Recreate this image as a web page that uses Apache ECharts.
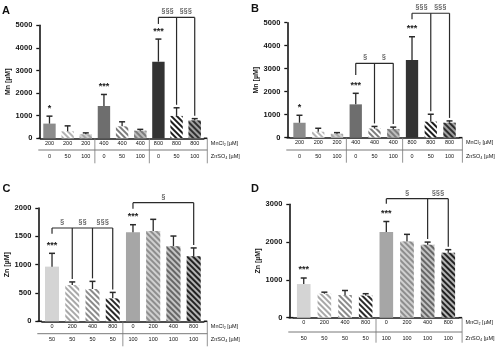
<!DOCTYPE html>
<html><head><meta charset="utf-8">
<script src="https://cdn.jsdelivr.net/npm/echarts@6/dist/echarts.min.js"></script>
<style>html,body{margin:0;padding:0;background:#fff}#c{width:500px;height:347px}</style>
</head><body><div id="c"></div>
<script>
// ---------- DATA ----------
// Panel A
const mnA = ['200','200','200','400','400','400','800','800','800'];
const znA = ['0','50','100','0','50','100','0','50','100'];
const meanA = [650, 310, 175, 1430, 530, 335, 3390, 990, 790];
const errA  = [980, 550, 240, 1940, 730, 395, 4390, 1350, 870];
const starsA = ['*','','','***','','','***','',''];
// bracket: [origin, targets, topValue, originDropEnd, labels]
const bracketsA = [[6, [7, 8], 5350, 5060, ['§§§', '§§§']]];

// Panel B
const mnB = ['200','200','200','400','400','400','800','800','800'];
const znB = ['0','50','100','0','50','100','0','50','100'];
const meanB = [650, 260, 170, 1450, 400, 380, 3380, 700, 650];
const errB  = [975, 410, 220, 1930, 490, 460, 4390, 1020, 730];
const starsB = ['*','','','***','','','***','',''];
const bracketsB = [[3, [4, 5], 3235, 2726, ['§', '§']], [6, [7, 8], 5410, 5148, ['§§§', '§§§']]];

// Panel C
const mnC = ['0','200','400','800','0','200','400','800'];
const znC = ['50','50','50','50','100','100','100','100'];
const meanC = [965, 640, 570, 405, 1570, 1595, 1325, 1150];
const errC  = [1200, 695, 705, 510, 1705, 1800, 1505, 1295];
const starsC = ['***','','','','***','','',''];
const bracketsC = [[0, [1, 2, 3], 1647, 1546, ['§', '§§', '§§§']], [4, [7], 2094, 1988, ['§']]];

// Panel D
const mnD = ['0','200','400','800','0','200','400','800'];
const znD = ['50','50','50','50','100','100','100','100'];
const meanD = [890, 635, 600, 585, 2265, 2015, 1930, 1720];
const errD  = [1050, 675, 720, 635, 2545, 2205, 2000, 1800];
const starsD = ['***','','','','***','','',''];
const bracketsD = [[4, [6, 7], 3148, 3016, ['§', '§§§']]];

const yNames = ['Mn [µM]', 'Mn [µM]', 'Zn [µM]', 'Zn [µM]'];
const yMaxes = [5000, 5000, 2000, 3000];
const yIntervals = [1000, 1000, 500, 1000];
const letters = ['A', 'B', 'C', 'D'];
const rowNameMn = 'MnCl₂ [µM]';
const rowNameZn = 'ZnSO₄ [µM]';

// ---------- STYLES ----------
const fillA   = ['#8c8c8c', '#ffffff', '#d2d2d2', '#6e6e6e', '#ffffff', '#bdbdbd', '#333333', '#ffffff', '#a0a0a0'];
const stripeA = [null, '#b4b4b4', '#a8a8a8', null, '#7c7c7c', '#7c7c7c', null, '#1e1e1e', '#2e2e2e'];
const fillB = fillA, stripeB = stripeA;
const fillC   = ['#d4d4d4', '#ffffff', '#ffffff', '#ffffff', '#a6a6a6', '#d0d0d0', '#c4c4c4', '#b4b4b4'];
const stripeC = [null, '#a8a8a8', '#8a8a8a', '#2a2a2a', null, '#8e8e8e', '#666666', '#222222'];
const fillD = fillC, stripeD = stripeC;

const layout = [
  {left: 40.4, top: 25.3, width: 163.4, height: 113, yOff: 1.1, rowOff: 11.7, barW: 12.4, lx: 2, ly: 5},
  {left: 290.1, top: 22.7, width: 168.8, height: 115, yOff: 2.8, rowOff: 12.3, barW: 12.3, lx: 251, ly: 3},
  {left: 41.9, top: 208, width: 161.9, height: 113.3, yOff: 3.6, rowOff: 12.4, barW: 14, lx: 2.5, ly: 183.5},
  {left: 293.4, top: 204.3, width: 165.2, height: 113.4, yOff: 4.1, rowOff: 14.3, barW: 13.6, lx: 251, ly: 183.5}
];

const panels = [
  {mn: mnA, zn: znA, mean: meanA, err: errA, stars: starsA, br: bracketsA, fill: fillA, stripe: stripeA},
  {mn: mnB, zn: znB, mean: meanB, err: errB, stars: starsB, br: bracketsB, fill: fillB, stripe: stripeB},
  {mn: mnC, zn: znC, mean: meanC, err: errC, stars: starsC, br: bracketsC, fill: fillC, stripe: stripeC},
  {mn: mnD, zn: znD, mean: meanD, err: errD, stars: starsD, br: bracketsD, fill: fillD, stripe: stripeD}
];

const FONT = '"Liberation Sans", Arial, Helvetica, sans-serif';
const AX = '#151515';
const LINE = '#2a2a2a';

const grid = [], xAxis = [], yAxis = [], series = [], title = [];

panels.forEach((p, g) => {
  const L = layout[g];
  grid.push({left: L.left, top: L.top, width: L.width, height: L.height, containLabel: false, outerBoundsMode: 'none'});
  title.push({text: letters[g], left: L.lx, top: L.ly, padding: 0,
    textStyle: {fontFamily: FONT, fontSize: 11, fontWeight: 'bold', color: '#111'}});
  xAxis.push({
    gridIndex: g, type: 'category', data: p.mn, position: 'bottom',
    axisLine: {show: true, lineStyle: {color: AX, width: 1.6}},
    axisTick: {show: false},
    axisLabel: {interval: 0, fontFamily: FONT, fontSize: 5.5, color: '#111', margin: 2},
    name: rowNameMn, nameLocation: 'end', nameGap: 7,
    nameTextStyle: {fontFamily: FONT, fontSize: 5.5, color: '#111', verticalAlign: 'top', padding: [2, 0, 0, 0]}
  });
  xAxis.push({
    gridIndex: g, type: 'category', data: p.zn, position: 'bottom', offset: L.rowOff,
    axisLine: {show: false}, axisTick: {show: false},
    axisLabel: {interval: 0, fontFamily: FONT, fontSize: 5.5, color: '#111', margin: 3},
    name: rowNameZn, nameLocation: 'end', nameGap: 7,
    nameTextStyle: {fontFamily: FONT, fontSize: 5.5, color: '#111', verticalAlign: 'top', padding: [3, 0, 0, 0]}
  });
  yAxis.push({
    gridIndex: g, type: 'value', min: 0, max: yMaxes[g], interval: yIntervals[g], offset: L.yOff,
    axisLine: {show: true, lineStyle: {color: AX, width: 1.6}},
    axisTick: {show: true, length: 3, lineStyle: {color: AX, width: 1.3}},
    splitLine: {show: false},
    axisLabel: {fontFamily: FONT, fontSize: 7.5, fontWeight: 'bold', color: '#111', margin: 7,
      formatter: v => String(v)},
    name: yNames[g], nameLocation: 'middle', nameGap: 28,
    nameTextStyle: {fontFamily: FONT, fontSize: 7, fontWeight: 'bold', color: '#111'}
  });

  // bars
  series.push({
    type: 'bar', xAxisIndex: 2 * g, yAxisIndex: g, barWidth: L.barW, silent: true,
    data: p.mean.map((v, i) => ({
      value: v,
      itemStyle: {
        color: p.fill[i],
        decal: p.stripe[i] ? {symbol: 'rect', symbolSize: 1, color: p.stripe[i],
          dashArrayX: [1, 0], dashArrayY: [2, 2], rotation: Math.PI / 4} : null
      }
    }))
  });

  // error bars + stars
  series.push({
    type: 'custom', xAxisIndex: 2 * g, yAxisIndex: g, clip: false, z: 4, silent: true,
    data: p.mean.map((m, i) => [i, m, p.err[i]]),
    renderItem: (params, api) => {
      const i = api.value(0);
      const a = api.coord([i, api.value(1)]);
      const b = api.coord([i, api.value(2)]);
      const children = [
        {type: 'line', shape: {x1: a[0], y1: a[1], x2: b[0], y2: b[1]}, style: {stroke: LINE, lineWidth: 1.3}},
        {type: 'line', shape: {x1: b[0] - 3, y1: b[1], x2: b[0] + 3, y2: b[1]}, style: {stroke: LINE, lineWidth: 1.5}}
      ];
      const s = p.stars[params.dataIndex];
      if (s) {
        children.push({type: 'text', style: {text: s, x: b[0], y: b[1] - 8, align: 'center', verticalAlign: 'middle',
          font: 'bold 9px ' + FONT, fill: '#222'}});
      }
      return {type: 'group', children};
    }
  });

  // significance brackets
  series.push({
    type: 'custom', xAxisIndex: 2 * g, yAxisIndex: g, clip: false, z: 4, silent: true,
    data: p.br.map(b => [b[0], b[2]]),
    renderItem: (params, api) => {
      const b = p.br[params.dataIndex];
      const o = b[0], targets = b[1], topV = b[2], oEnd = b[3], labels = b[4];
      const po = api.coord([o, topV]);
      const yTop = po[1];
      const xs = [po[0]].concat(targets.map(t => api.coord([t, 0])[0]));
      const xEnd = xs[xs.length - 1];
      const st = {stroke: LINE, lineWidth: 1.2};
      const children = [
        {type: 'line', shape: {x1: po[0], y1: yTop, x2: xEnd, y2: yTop}, style: st},
        {type: 'line', shape: {x1: po[0], y1: yTop, x2: po[0], y2: api.coord([o, oEnd])[1]}, style: st}
      ];
      targets.forEach((t, k) => {
        const yE = api.coord([t, p.err[t]])[1] - 3;
        children.push({type: 'line', shape: {x1: xs[k + 1], y1: yTop, x2: xs[k + 1], y2: yE}, style: st});
      });
      labels.forEach((lab, k) => {
        children.push({type: 'text', style: {text: lab, x: (xs[k] + xs[k + 1]) / 2, y: yTop - 6,
          align: 'center', verticalAlign: 'middle', font: '7.5px ' + FONT, fill: '#333'}});
      });
      return {type: 'group', children};
    }
  });

  // table decorations: separators, row line, baseline extension
  series.push({
    type: 'custom', xAxisIndex: 2 * g, yAxisIndex: g, clip: false, z: 3, silent: true,
    data: [[0, 0]],
    renderItem: (params, api) => {
      const cs = params.coordSys;
      const y0 = cs.y + cs.height;
      const xAxisPix = cs.x - L.yOff;
      const xRight = cs.x + cs.width + 3.5;
      const children = [
        {type: 'line', shape: {x1: xAxisPix - 0.8, y1: y0, x2: cs.x, y2: y0}, style: {stroke: AX, lineWidth: 1.6}},
        {type: 'line', shape: {x1: cs.x + cs.width, y1: y0, x2: xRight, y2: y0}, style: {stroke: AX, lineWidth: 1.6}},
        {type: 'line', shape: {x1: xAxisPix - 1, y1: y0 + L.rowOff, x2: xRight, y2: y0 + L.rowOff}, style: {stroke: '#555', lineWidth: 0.8}},
        {type: 'line', shape: {x1: xRight, y1: y0, x2: xRight, y2: y0 + 25}, style: {stroke: '#777', lineWidth: 0.8}}
      ];
      const groupKey = p.mn.map((m, i) => (g < 2 ? m : p.zn[i]));
      for (let k = 1; k < groupKey.length; k++) {
        if (groupKey[k] !== groupKey[k - 1]) {
          const xb = (api.coord([k - 1, 0])[0] + api.coord([k, 0])[0]) / 2;
          children.push({type: 'line', shape: {x1: xb, y1: y0, x2: xb, y2: y0 + 25}, style: {stroke: '#777', lineWidth: 0.8}});
        }
      }
      return {type: 'group', children};
    }
  });
});

const chart = echarts.init(document.getElementById('c'), null, {renderer: 'canvas'});
chart.setOption({
  animation: false,
  backgroundColor: '#ffffff',
  title, grid, xAxis, yAxis, series
});
</script>
</body></html>
